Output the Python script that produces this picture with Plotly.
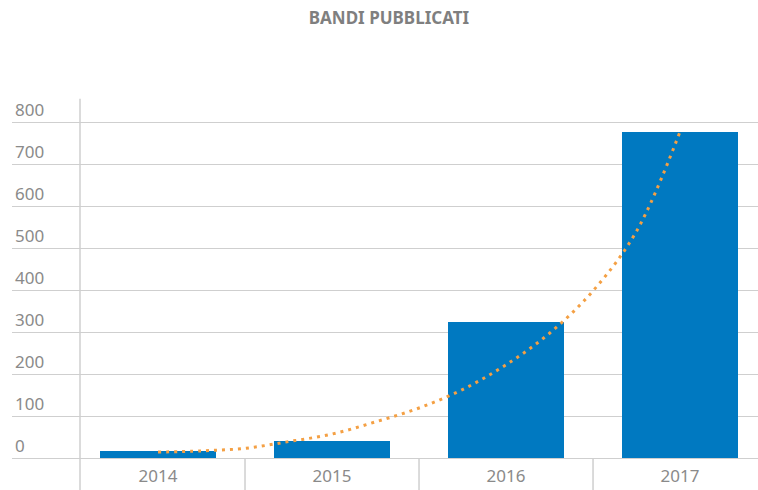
import plotly.graph_objects as go

# Data
years = ["2014", "2015", "2016", "2017"]
year_pos = [0, 1, 2, 3]
bandi = [16, 41, 324, 777]

# Trend line (dotted) values
trend_x = [0, 0.25, 0.5, 0.75, 1, 1.25, 1.5, 1.75, 2, 2.25, 2.5, 2.75, 3]
trend_y = [14, 17, 23, 39, 57, 86, 119, 163, 222, 297, 398, 540, 777]

y_ticks = [0, 100, 200, 300, 400, 500, 600, 700, 800]

BAR_COLOR = "#0079C1"
TREND_COLOR = "#F4A044"
GRID_COLOR = "#CFCFCF"
TEXT_COLOR = "#8A8A8A"
FONT = "Noto Sans"

TOP = 60
PLOT_H = 490 - TOP - 32
Y_MAX = 800 * PLOT_H / (458.3 - 122.3)

fig = go.Figure()
fig.add_trace(go.Bar(
    x=year_pos, y=bandi, width=0.667,
    marker=dict(color=BAR_COLOR, line=dict(width=0)),
    hoverinfo="skip",
))
fig.add_trace(go.Scatter(
    x=trend_x, y=trend_y, mode="lines",
    line=dict(color=TREND_COLOR, width=3, dash="3px,5px", shape="spline"),
    hoverinfo="skip",
))

fig.update_layout(
    width=758, height=490,
    margin=dict(l=12, r=0, t=TOP, b=32, autoexpand=False),
    paper_bgcolor="white", plot_bgcolor="white",
    showlegend=False,
    font=dict(family=FONT, color=TEXT_COLOR),
    title=dict(
        text="<b>BANDI PUBBLICATI</b>",
        x=389 / 758, xanchor="center", xref="container",
        y=1 - 18 / 490, yanchor="middle", yref="container",
        font=dict(family=FONT, size=17, color="#7F7F7F"),
    ),
    xaxis=dict(
        range=[-0.839, 3.448],
        tickvals=year_pos, ticktext=years,
        showgrid=False, zeroline=False, showline=False,
        ticks="", tickfont=dict(size=17, color=TEXT_COLOR),
        ticklabelstandoff=6,
        fixedrange=True,
    ),
    yaxis=dict(
        range=[0, Y_MAX],
        tickvals=y_ticks,
        showgrid=True, gridcolor=GRID_COLOR, gridwidth=1,
        zeroline=True, zerolinecolor=GRID_COLOR, zerolinewidth=1,
        showline=False, ticks="",
        ticklabelposition="inside top",
        tickfont=dict(size=17, color=TEXT_COLOR),
        fixedrange=True,
    ),
    bargap=0,
)

# Vertical axis line and category separators
fig.add_shape(type="line", xref="paper", yref="paper",
              x0=(80 - 12) / 746, x1=(80 - 12) / 746,
              y0=-0.1, y1=(458.3 - 99) / PLOT_H,
              line=dict(color=GRID_COLOR, width=1.5), layer="below")
for b in [0.5, 1.5, 2.5]:
    fig.add_shape(type="line", xref="x", yref="paper",
                  x0=b, x1=b, y0=-0.1, y1=0,
                  line=dict(color=GRID_COLOR, width=1.5), layer="below")

fig.write_html("out.html", config={"displayModeBar": False},
               post_script="document.body.style.margin='0';")
